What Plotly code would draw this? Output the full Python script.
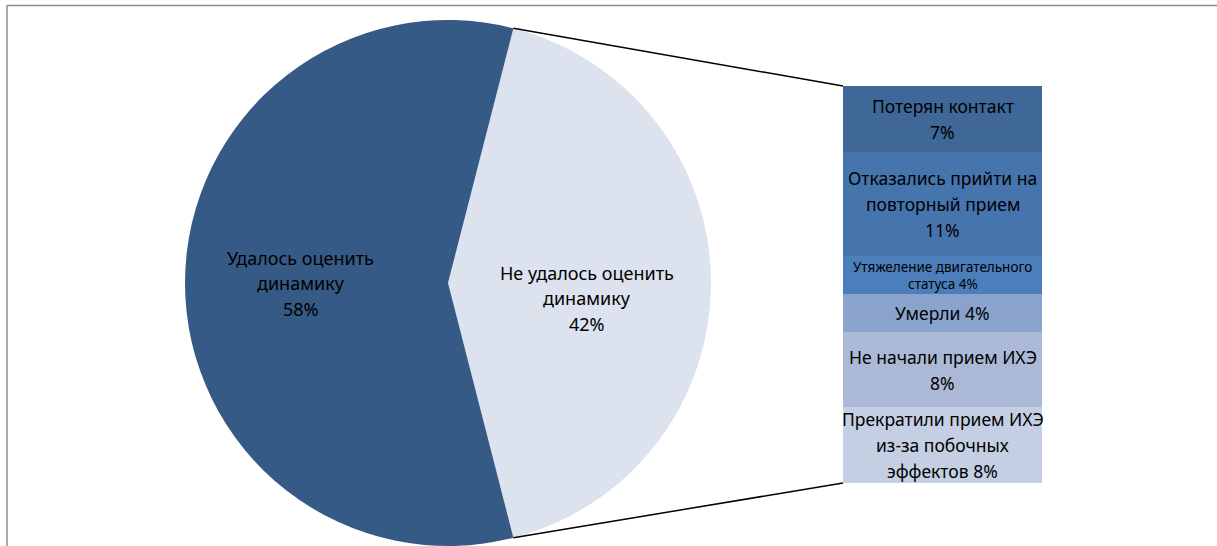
import math
import plotly.graph_objects as go

W, H = 1217, 546

# ---- data ----
pie_labels = ["Не удалось оценить динамику", "Удалось оценить динамику"]
pie_values = [42, 58]
pie_text = [["Не удалось оценить", "динамику", "42%"],
            ["Удалось оценить", "динамику", "58%"]]

# breakdown of "Не удалось оценить динамику", listed bottom -> top
bar_labels = ["Прекратили прием ИХЭ из-за побочных эффектов",
              "Не начали прием ИХЭ",
              "Умерли",
              "Утяжеление двигательного статуса",
              "Отказались прийти на повторный прием",
              "Потерян контакт"]
bar_values = [8, 8, 4, 4, 11, 7]
bar_text = [["Прекратили прием ИХЭ", "из-за побочных", "эффектов 8%"],
            ["Не начали прием ИХЭ", "8%"],
            ["Умерли 4%"],
            ["Утяжеление двигательного", "статуса 4%"],
            ["Отказались прийти на", "повторный прием", "11%"],
            ["Потерян контакт", "7%"]]

# ---- styles ----
pie_colors = ["#DCE2EE", "#365A86"]
bar_colors = ["#C5CFE4", "#ABB9D6", "#8AA3CC", "#4C7EBB", "#4674AC", "#3F6899"]
bar_font = [17.5, 17.5, 17.5, 13.5, 17.5, 17.5]
bar_spacing = [26, 26, 26, 17, 26, 26]
FONT = "Noto Sans"

# pie geometry (pixels)
pie_x0, pie_x1 = 184, 712
pie_ytop, pie_ybot = 20, 546
pie_dom_x = [pie_x0 / W, pie_x1 / W]
pie_dom_y = [1 - pie_ybot / H, 1 - pie_ytop / H]
cx = (pie_x0 + pie_x1) / 2
cy = (pie_ytop + pie_ybot) / 2
r = min(pie_x1 - pie_x0, pie_ybot - pie_ytop) / 2

total = sum(pie_values)
first_span = pie_values[0] / total * 360
rotation = 90 - first_span / 2

# bar geometry
bar_dom_x = [843 / W, 1042 / W]
bar_dom_y = [1 - 483 / H, 1 - 86 / H]
bar_total = sum(bar_values)

fig = go.Figure()
fig.add_trace(go.Pie(
    labels=pie_labels, values=pie_values, sort=False, direction="clockwise",
    rotation=rotation, marker=dict(colors=pie_colors, line=dict(width=0)),
    textinfo="none", showlegend=False, hoverinfo="label+percent",
    domain=dict(x=pie_dom_x, y=pie_dom_y)))

for lab, v, c in zip(bar_labels, bar_values, bar_colors):
    fig.add_trace(go.Bar(x=[0], y=[v], name=lab, marker=dict(color=c, line=dict(width=0)),
                         width=1, showlegend=False, hovertemplate=lab + ": %{y}%<extra></extra>"))

annotations = []

def add_lines(x, y, xref, yref, lines, size, spacing, dy=0):
    n = len(lines)
    for i, t in enumerate(lines):
        annotations.append(dict(
            x=x, y=y, xref=xref, yref=yref, text=t, showarrow=False,
            xanchor="center", yanchor="middle",
            yshift=(n - 1) / 2 * spacing - i * spacing - dy,
            font=dict(family=FONT, size=size, color="#000000")))

# pie labels at slice midpoints
pie_label_frac = [0.53, 0.56]
pie_label_dy = [15, 0]
start = rotation
for v, lines, f, dy in zip(pie_values, pie_text, pie_label_frac, pie_label_dy):
    span = v / total * 360
    mid = math.radians(start + span / 2)
    px = cx + f * r * math.sin(mid)
    py = cy - f * r * math.cos(mid)
    add_lines(px / W, 1 - py / H, "paper", "paper", lines, 18, 25.5, dy)
    start += span

# bar labels at segment centers
base = 0
for v, lines, fs, sp in zip(bar_values, bar_text, bar_font, bar_spacing):
    add_lines(0, base + v / 2, "x", "y", lines, fs, sp)
    base += v

shapes = []
# connector lines: boundaries of first slice -> bar corners
a0 = math.radians(rotation)
a1 = math.radians(rotation + first_span)
for ang, by in ((a0, bar_dom_y[1]), (a1, bar_dom_y[0])):
    px = cx + r * math.sin(ang)
    py = cy - r * math.cos(ang)
    shapes.append(dict(type="line", xref="paper", yref="paper",
                       x0=px / W, y0=1 - py / H, x1=bar_dom_x[0], y1=by,
                       line=dict(color="#000000", width=1.5)))
# frame
shapes.append(dict(type="line", xref="paper", yref="paper", x0=7 / W, x1=1, y0=1 - 5.5 / H, y1=1 - 5.5 / H,
                   line=dict(color="#8C8C8C", width=1.5)))
shapes.append(dict(type="line", xref="paper", yref="paper", x0=7 / W, x1=7 / W, y0=1 - 5.5 / H, y1=0,
                   line=dict(color="#8C8C8C", width=1.5)))

fig.update_layout(
    width=W, height=H, margin=dict(l=0, r=0, t=0, b=0),
    paper_bgcolor="white", plot_bgcolor="white",
    barmode="stack", bargap=0,
    xaxis=dict(domain=bar_dom_x, range=[-0.5, 0.5], visible=False, fixedrange=True),
    yaxis=dict(domain=bar_dom_y, range=[0, bar_total], visible=False, fixedrange=True),
    annotations=annotations, shapes=shapes, showlegend=False)

fig.write_html("out.html")
